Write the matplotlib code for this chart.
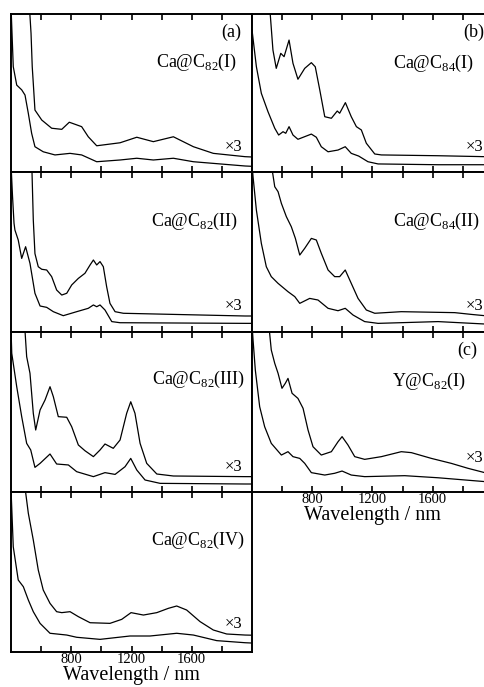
import numpy as np
import matplotlib
matplotlib.use("Agg")
import matplotlib.pyplot as plt

plt.rcParams['font.family'] = ['Liberation Serif', 'DejaVu Serif']
plt.rcParams['mathtext.fontset'] = 'custom'
plt.rcParams['mathtext.rm'] = 'Liberation Serif'

# ---- spectra (wavelength nm, absorbance in arb. units) ----
# (a) Ca@C82(I)
wl_a1 = [400, 415, 438, 471, 493, 515, 537, 559, 614, 692, 792, 869, 969, 1124, 1235, 1345, 1478, 1611, 1954, 2000]
ab_a1 = [1.05, 0.667, 0.55, 0.52, 0.487, 0.371, 0.245, 0.16, 0.128, 0.108, 0.118, 0.108, 0.065, 0.076, 0.087, 0.076, 0.087, 0.065, 0.038, 0.036]
wl_a3 = [522, 533, 541, 548, 559, 604, 670, 737, 787, 869, 913, 969, 1124, 1235, 1345, 1478, 1611, 1743, 1954, 2000]
ab_a3 = [1.05, 0.878, 0.666, 0.561, 0.392, 0.329, 0.277, 0.27, 0.315, 0.287, 0.223, 0.166, 0.185, 0.22, 0.192, 0.223, 0.16, 0.118, 0.097, 0.095]

# Ca@C82(II)
wl_b1 = [400, 410, 420, 426, 448, 471, 497, 526, 559, 593, 637, 681, 747, 836, 913, 947, 969, 991, 1024, 1069, 1124, 1954, 2000]
ab_b1 = [1.05, 0.85, 0.68, 0.6375, 0.575, 0.46, 0.533, 0.429, 0.242, 0.1625, 0.154, 0.127, 0.102, 0.127, 0.148, 0.169, 0.158, 0.169, 0.1375, 0.065, 0.058, 0.054, 0.054]
wl_b3 = [538, 548, 559, 581, 604, 637, 670, 703, 737, 770, 803, 847, 891, 925, 947, 969, 991, 1013, 1035, 1057, 1091, 1146, 1954, 2000]
ab_b3 = [1.05, 0.7, 0.49, 0.408, 0.392, 0.3875, 0.346, 0.2625, 0.231, 0.242, 0.294, 0.335, 0.367, 0.419, 0.45, 0.419, 0.44, 0.408, 0.283, 0.179, 0.127, 0.117, 0.1, 0.1]

# Ca@C82(III)
wl_c1 = [400, 405, 438, 471, 504, 531, 559, 593, 659, 703, 781, 836, 947, 1024, 1091, 1157, 1195, 1235, 1290, 1390, 1954, 2000]
ab_c1 = [1.02, 0.867, 0.658, 0.471, 0.304, 0.2625, 0.154, 0.179, 0.2375, 0.175, 0.169, 0.127, 0.096, 0.121, 0.11, 0.158, 0.21, 0.1375, 0.075, 0.054, 0.05, 0.05]
wl_c3 = [490, 504, 526, 548, 564, 593, 626, 659, 681, 714, 770, 803, 847, 891, 947, 991, 1024, 1079, 1124, 1168, 1195, 1223, 1257, 1301, 1368, 1478, 1954, 2000]
ab_c3 = [1.05, 0.846, 0.742, 0.492, 0.3875, 0.5125, 0.575, 0.658, 0.596, 0.471, 0.467, 0.408, 0.294, 0.258, 0.221, 0.2625, 0.3, 0.273, 0.325, 0.492, 0.564, 0.492, 0.304, 0.179, 0.1125, 0.1, 0.096, 0.096]

# Ca@C82(IV)
wl_d1 = [400, 415, 448, 482, 515, 548, 593, 659, 770, 836, 991, 1190, 1323, 1500, 1611, 1766, 1954, 2000]
ab_d1 = [1.02, 0.658, 0.45, 0.408, 0.325, 0.252, 0.179, 0.117, 0.106, 0.092, 0.079, 0.1, 0.1, 0.117, 0.106, 0.071, 0.058, 0.056]
wl_d3 = [490, 515, 548, 581, 614, 659, 703, 737, 792, 847, 925, 1057, 1135, 1197, 1279, 1368, 1445, 1500, 1566, 1655, 1743, 1832, 1954, 2000]
ab_d3 = [1.05, 0.867, 0.7, 0.5125, 0.3875, 0.304, 0.252, 0.246, 0.252, 0.221, 0.183, 0.179, 0.204, 0.246, 0.231, 0.246, 0.273, 0.2875, 0.2625, 0.19, 0.1375, 0.1125, 0.106, 0.105]

# (b) Ca@C84(I)
wl_e1 = [400, 429, 462, 506, 551, 577, 606, 624, 646, 672, 705, 794, 827, 860, 905, 971, 1019, 1059, 1108, 1170, 1237, 1635, 2000]
ab_e1 = [0.9, 0.667, 0.498, 0.382, 0.277, 0.234, 0.255, 0.245, 0.287, 0.234, 0.207, 0.24, 0.22, 0.16, 0.128, 0.139, 0.16, 0.118, 0.101, 0.065, 0.051, 0.046, 0.046]
wl_e3 = [517, 539, 561, 591, 613, 646, 672, 705, 750, 794, 820, 850, 883, 927, 966, 982, 1020, 1059, 1093, 1126, 1159, 1215, 1259, 1635, 1945, 2000]
ab_e3 = [1.05, 0.772, 0.656, 0.751, 0.73, 0.835, 0.688, 0.587, 0.656, 0.692, 0.666, 0.519, 0.35, 0.34, 0.386, 0.372, 0.439, 0.35, 0.287, 0.266, 0.182, 0.114, 0.108, 0.103, 0.097, 0.095]

# Ca@C84(II)
wl_f1 = [400, 407, 429, 462, 495, 528, 573, 639, 684, 717, 783, 838, 905, 971, 1019, 1071, 1148, 1237, 1635, 1945, 2000]
ab_f1 = [1.05, 0.97, 0.7625, 0.554, 0.408, 0.346, 0.304, 0.252, 0.221, 0.179, 0.21, 0.2, 0.148, 0.133, 0.148, 0.106, 0.065, 0.054, 0.065, 0.05, 0.05]
wl_f3 = [528, 551, 573, 595, 628, 661, 688, 717, 750, 794, 827, 860, 905, 949, 982, 1019, 1059, 1104, 1159, 1215, 1391, 1746, 1856, 1945, 2000]
ab_f3 = [1.05, 0.908, 0.877, 0.804, 0.721, 0.658, 0.585, 0.481, 0.523, 0.585, 0.575, 0.492, 0.3875, 0.346, 0.346, 0.3875, 0.304, 0.21, 0.1375, 0.117, 0.127, 0.121, 0.11, 0.102, 0.1]

# (c) Y@C82(I)
wl_g1 = [400, 407, 422, 451, 484, 528, 595, 639, 672, 717, 750, 794, 883, 949, 998, 1059, 1148, 1414, 1635, 1945, 2000]
ab_g1 = [1.05, 0.95, 0.7625, 0.533, 0.408, 0.304, 0.231, 0.252, 0.221, 0.21, 0.179, 0.121, 0.106, 0.117, 0.131, 0.106, 0.096, 0.102, 0.089, 0.065, 0.062]
wl_g3 = [511, 528, 551, 573, 599, 621, 639, 666, 705, 739, 772, 805, 860, 927, 971, 998, 1037, 1082, 1148, 1259, 1391, 1458, 1591, 1723, 1834, 1945, 2000]
ab_g3 = [1.05, 0.8875, 0.804, 0.742, 0.648, 0.679, 0.71, 0.617, 0.585, 0.523, 0.3875, 0.283, 0.231, 0.252, 0.314, 0.346, 0.294, 0.221, 0.204, 0.221, 0.252, 0.246, 0.21, 0.179, 0.148, 0.121, 0.11]

# ---- layout (pixels of the 485x687 figure) ----
W, H = 485, 687
fig = plt.figure(figsize=(W / 100, H / 100), dpi=100)


def add_panel(x0, ytop, h):
    ax = fig.add_axes([x0 / W, 1 - (ytop + h) / H, 241 / W, h / H])
    ax.set_xlim(400, 2000)
    ax.set_ylim(0, 1)
    ax.set_yticks([])
    ax.set_xticks([600, 800, 1000, 1200, 1400, 1600, 1800])
    ax.set_xticklabels(['', '800', '', '1200', '', '1600', ''])
    ax.tick_params(axis='x', direction='in', top=True, bottom=True,
                   length=4, width=1.2, labelbottom=False, labelsize=10.5, pad=1)
    for s in ax.spines.values():
        s.set_linewidth(1.4)
    return ax


panels = [
    (11, 14, 158, wl_a1, ab_a1, wl_a3, ab_a3, r'Ca@C$_{\mathrm{82}}$(I)', 0.692, 0.16, '(a)', 0.886, 0.955),
    (11, 172, 160, wl_b1, ab_b1, wl_b3, ab_b3, r'Ca@C$_{\mathrm{82}}$(II)', 0.689, 0.162, None, 0, 0.955),
    (11, 332, 160, wl_c1, ab_c1, wl_c3, ab_c3, r'Ca@C$_{\mathrm{82}}$(III)', 0.704, 0.158, None, 0, 0.955),
    (11, 492, 160, wl_d1, ab_d1, wl_d3, ab_d3, r'Ca@C$_{\mathrm{82}}$(IV)', 0.70, 0.175, None, 0, 0.955),
    (252, 14, 158, wl_e1, ab_e1, wl_e3, ab_e3, r'Ca@C$_{\mathrm{84}}$(I)', 0.688, 0.16, '(b)', 0.886, 0.965),
    (252, 172, 160, wl_f1, ab_f1, wl_f3, ab_f3, r'Ca@C$_{\mathrm{84}}$(II)', 0.689, 0.162, None, 0, 0.965),
    (252, 332, 160, wl_g1, ab_g1, wl_g3, ab_g3, r'Y@C$_{\mathrm{82}}$(I)', 0.689, 0.214, '(c)', 0.883, 0.935),
]

label_x = {0: 0.937, 1: 0.94, 2: 0.97, 3: 0.97, 4: 0.921, 5: 0.945, 6: 0.889}

axes = []
for i, (x0, yt, h, w1, a1, w3, a3, name, ny, ty, tag, tagy, tagx) in enumerate(panels):
    ax = add_panel(x0, yt, h)
    ax.plot(w1, a1, color='black', lw=0.9)
    ax.plot(w3, a3, color='black', lw=0.9)
    ax.text(label_x[i], ny, name, transform=ax.transAxes, ha='right', va='center', fontsize=13)
    ax.text(0.96, ty, '×3', transform=ax.transAxes, ha='right', va='center', fontsize=12)
    if tag:
        ax.text(tagx, tagy, tag, transform=ax.transAxes, ha='right', va='center', fontsize=13)
    axes.append(ax)

for ax in (axes[3], axes[6]):
    ax.tick_params(labelbottom=True)
    ax.set_xlabel('Wavelength / nm', fontsize=14.5, labelpad=0)

fig.savefig('out.png', dpi=100)
